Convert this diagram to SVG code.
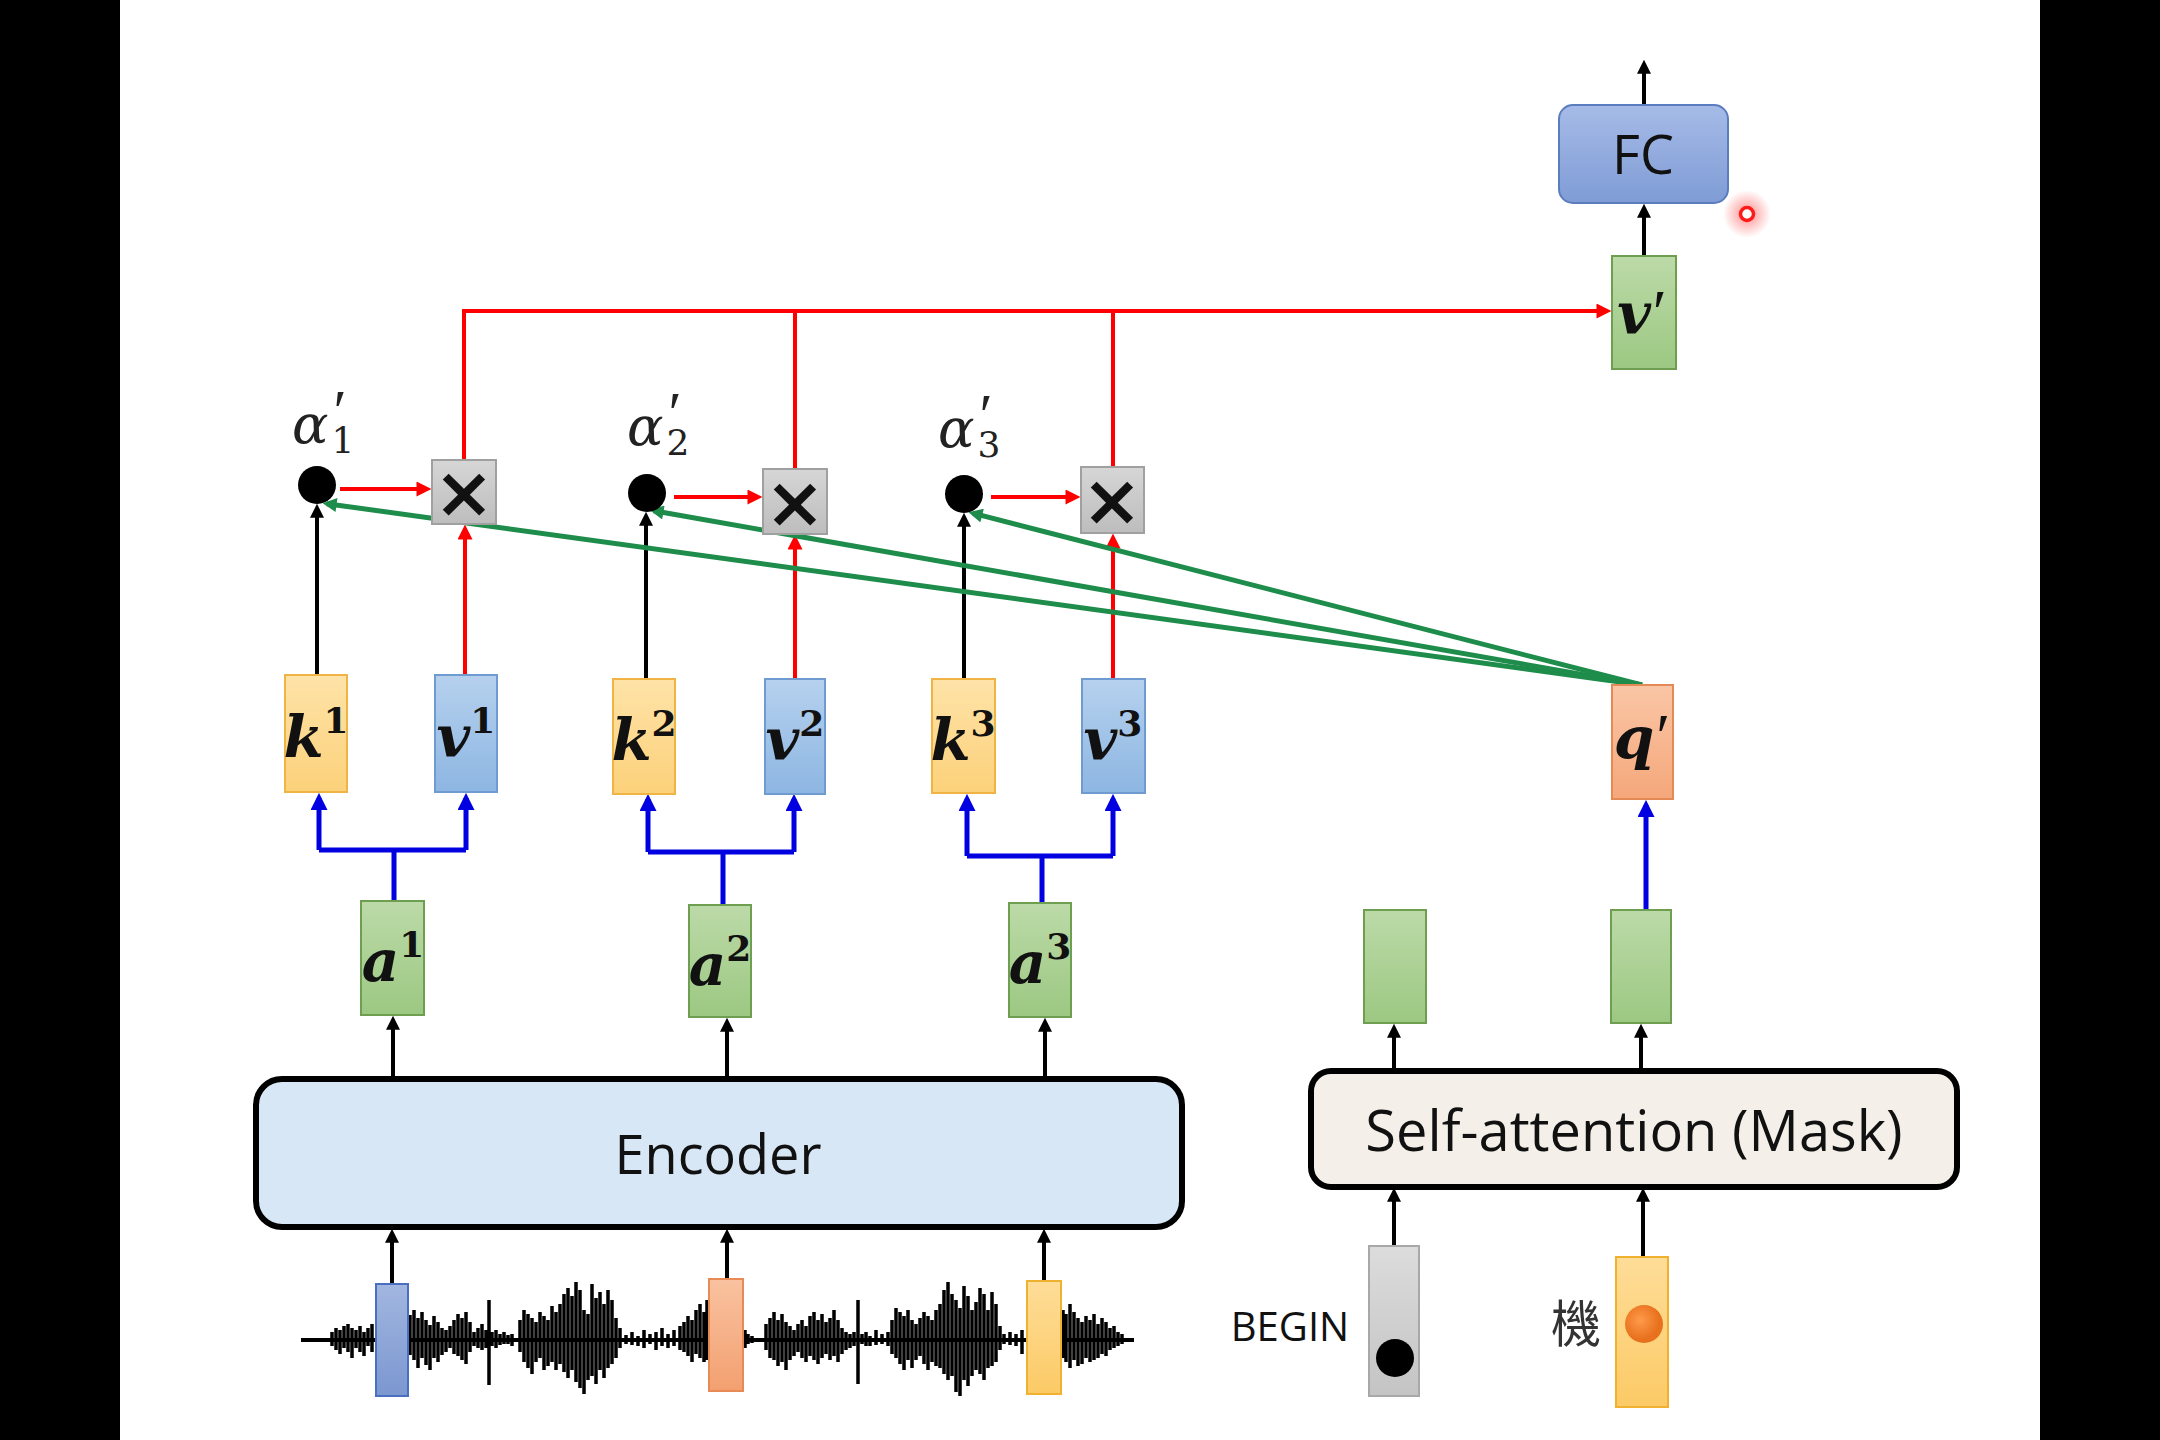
<svg xmlns="http://www.w3.org/2000/svg" width="2160" height="1440" viewBox="0 0 2160 1440">
<style>
.sans{font-family:"Open Sans","Liberation Sans",sans-serif;fill:#111}
.math{font-family:"DejaVu Serif","Liberation Serif",serif;font-weight:bold;font-style:italic;fill:#111}
.sup{font-style:normal;font-size:36px}
.pr{font-family:"Liberation Serif","DejaVu Serif",serif;font-style:normal;font-weight:normal}
.greek{font-family:"DejaVu Serif","Liberation Serif",serif;font-style:italic;font-size:54px;fill:#222}
.sub{font-style:normal;font-size:36px}
.prime{font-family:"Liberation Serif","DejaVu Serif",serif;font-style:normal;font-size:60px}
.blk{stroke:#000;stroke-width:4;fill:none}
.red{stroke:#f00;stroke-width:4;fill:none}
.blue{stroke:#0000e0;stroke-width:5;fill:none}
.grn{stroke:#1e8c4a;stroke-width:5;fill:none}
.k{fill:url(#gK);stroke:#f0b445;stroke-width:2}
.v{fill:url(#gV);stroke:#6f9bd1;stroke-width:2}
.a{fill:url(#gA);stroke:#6e9e50;stroke-width:2}
.x{fill:url(#gX);stroke:#a0a0a0;stroke-width:2}
.times{font-family:"DejaVu Sans",sans-serif;font-weight:bold;font-size:72px;fill:#111}
</style>
<defs>
<linearGradient id="gK" x1="0" y1="0" x2="0" y2="1"><stop offset="0" stop-color="#fee3a8"/><stop offset="1" stop-color="#fcd17a"/></linearGradient>
<linearGradient id="gV" x1="0" y1="0" x2="0" y2="1"><stop offset="0" stop-color="#b6d1ee"/><stop offset="1" stop-color="#8db6e2"/></linearGradient>
<linearGradient id="gA" x1="0" y1="0" x2="0" y2="1"><stop offset="0" stop-color="#bcdaa8"/><stop offset="1" stop-color="#9cc882"/></linearGradient>
<linearGradient id="gQ" x1="0" y1="0" x2="0" y2="1"><stop offset="0" stop-color="#fac6a6"/><stop offset="1" stop-color="#f5a77a"/></linearGradient>
<linearGradient id="gX" x1="0" y1="0" x2="0" y2="1"><stop offset="0" stop-color="#d6d6d6"/><stop offset="1" stop-color="#bdbdbd"/></linearGradient>
<linearGradient id="gFC" x1="0" y1="0" x2="0" y2="1"><stop offset="0" stop-color="#a6bbe7"/><stop offset="1" stop-color="#7f9cd6"/></linearGradient>
<linearGradient id="gAB" x1="0" y1="0" x2="0" y2="1"><stop offset="0" stop-color="#a2b7e0"/><stop offset="1" stop-color="#7b97d0"/></linearGradient>
<linearGradient id="gAO" x1="0" y1="0" x2="0" y2="1"><stop offset="0" stop-color="#f9c2a0"/><stop offset="1" stop-color="#f3a070"/></linearGradient>
<linearGradient id="gAY" x1="0" y1="0" x2="0" y2="1"><stop offset="0" stop-color="#fedd98"/><stop offset="1" stop-color="#fcca66"/></linearGradient>
<linearGradient id="gG" x1="0" y1="0" x2="0" y2="1"><stop offset="0" stop-color="#dcdcdc"/><stop offset="1" stop-color="#c4c4c4"/></linearGradient>
<radialGradient id="gGlow"><stop offset="0" stop-color="#ff3030" stop-opacity="0.55"/><stop offset="1" stop-color="#ff3030" stop-opacity="0"/></radialGradient>
<radialGradient id="gOr" cx="0.4" cy="0.4"><stop offset="0" stop-color="#ff9a4a"/><stop offset="1" stop-color="#e8711e"/></radialGradient>
<marker id="mK" viewBox="0 0 10 10" refX="7" refY="5" markerWidth="15" markerHeight="14" markerUnits="userSpaceOnUse" orient="auto"><path d="M0,0 L10,5 L0,10 z" fill="#000"/></marker>
<marker id="mR" viewBox="0 0 10 10" refX="7" refY="5" markerWidth="16" markerHeight="15" markerUnits="userSpaceOnUse" orient="auto"><path d="M0,0 L10,5 L0,10 z" fill="#f00"/></marker>
<marker id="mB" viewBox="0 0 10 10" refX="7" refY="5" markerWidth="17" markerHeight="17" markerUnits="userSpaceOnUse" orient="auto"><path d="M0,0 L10,5 L0,10 z" fill="#0000e0"/></marker>
<marker id="mG" viewBox="0 0 10 10" refX="7" refY="5" markerWidth="16" markerHeight="14" markerUnits="userSpaceOnUse" orient="auto"><path d="M0,0 L10,5 L0,10 z" fill="#1e8c4a"/></marker>
</defs>

<rect x="0" y="0" width="2160" height="1440" fill="#fff"/>
<rect x="0" y="0" width="120" height="1440" fill="#000"/>
<rect x="2040" y="0" width="120" height="1440" fill="#000"/>

<!-- waveform -->
<g id="waveform">
<path d="M301 1340 H1134" stroke="#000" stroke-width="4" fill="none"/>
<path stroke="#000" stroke-width="3.5" fill="none" d="M332 1332V1346M336 1328V1350M340 1330V1354M344 1326V1348M348 1324V1352M352 1328V1358M356 1330V1348M360 1326V1352M364 1332V1356M368 1328V1346M372 1324V1352M410 1315V1355M414 1310V1360M418 1318V1368M422 1312V1358M426 1320V1365M430 1325V1370M434 1316V1358M438 1322V1362M442 1328V1355M446 1330V1352M450 1326V1348M454 1320V1354M458 1314V1356M462 1318V1360M466 1312V1364M470 1322V1352M474 1332V1346M478 1328V1348M482 1324V1350M486 1330V1348M489 1300V1385M492 1332V1346M496 1330V1348M500 1334V1345M504 1332V1344M508 1335V1344M512 1334V1346M520 1320V1352M524 1310V1362M528 1314V1368M532 1318V1374M536 1322V1362M540 1312V1358M544 1316V1370M548 1320V1366M552 1306V1362M556 1312V1370M560 1304V1364M564 1294V1372M568 1288V1378M572 1296V1370M576 1282V1382M580 1290V1388M584 1310V1394M588 1314V1380M592 1284V1376M596 1298V1384M600 1292V1370M604 1304V1378M608 1290V1368M612 1300V1364M616 1318V1358M620 1328V1348M626 1335V1344M632 1332V1345M638 1336V1346M644 1330V1348M650 1334V1344M656 1332V1350M662 1328V1346M668 1334V1348M674 1330V1346M680 1326V1350M684 1322V1352M688 1316V1356M692 1320V1362M696 1310V1354M700 1304V1358M704 1312V1362M707 1300V1360M745 1330V1348M748 1334V1344M752 1336V1343M766 1324V1350M770 1318V1358M774 1312V1360M778 1320V1366M782 1314V1362M786 1322V1370M790 1326V1360M794 1330V1356M798 1324V1352M802 1320V1358M806 1326V1362M810 1316V1356M814 1312V1360M818 1320V1364M822 1314V1358M826 1322V1354M830 1318V1360M834 1310V1356M838 1320V1362M842 1328V1354M846 1332V1350M850 1334V1348M854 1332V1346M858 1300V1384M862 1334V1344M866 1332V1346M870 1336V1346M876 1330V1345M882 1334V1344M888 1332V1346M892 1320V1354M896 1308V1358M900 1312V1364M904 1316V1370M908 1310V1360M912 1320V1368M916 1324V1360M920 1318V1356M924 1312V1364M928 1316V1370M932 1320V1362M936 1310V1366M940 1304V1368M944 1290V1374M948 1282V1380M952 1294V1376M956 1300V1392M960 1308V1396M964 1286V1380M968 1296V1386M972 1310V1376M976 1302V1370M980 1288V1374M984 1294V1380M988 1310V1368M992 1292V1366M996 1304V1362M1000 1326V1350M1004 1334V1344M1010 1332V1345M1016 1334V1346M1022 1330V1354M1063 1310V1358M1066 1314V1362M1070 1304V1368M1074 1312V1360M1078 1318V1366M1082 1322V1364M1086 1316V1358M1090 1320V1362M1094 1314V1360M1098 1324V1358M1102 1318V1354M1106 1322V1356M1110 1328V1350M1114 1326V1348M1118 1332V1346M1122 1334V1344"/>
</g>

<g id="connectors">
<!-- black -->
<path class="blk" marker-end="url(#mK)" d="M317 675 V508"/>
<path class="blk" marker-end="url(#mK)" d="M646 679 V516"/>
<path class="blk" marker-end="url(#mK)" d="M964 679 V517"/>
<path class="blk" marker-end="url(#mK)" d="M1644 256 V208"/>
<path class="blk" marker-end="url(#mK)" d="M1644 105 V64"/>
<path class="blk" marker-end="url(#mK)" d="M393 1078 V1020"/>
<path class="blk" marker-end="url(#mK)" d="M727 1078 V1022"/>
<path class="blk" marker-end="url(#mK)" d="M1045 1078 V1022"/>
<path class="blk" marker-end="url(#mK)" d="M392 1284 V1233"/>
<path class="blk" marker-end="url(#mK)" d="M727 1279 V1233"/>
<path class="blk" marker-end="url(#mK)" d="M1044 1281 V1233"/>
<path class="blk" marker-end="url(#mK)" d="M1394 1071 V1028"/>
<path class="blk" marker-end="url(#mK)" d="M1641 1071 V1028"/>
<path class="blk" marker-end="url(#mK)" d="M1394 1246 V1192"/>
<path class="blk" marker-end="url(#mK)" d="M1643 1257 V1192"/>
<!-- red -->
<path class="red" marker-end="url(#mR)" d="M340 489 H427"/>
<path class="red" marker-end="url(#mR)" d="M674 497 H758"/>
<path class="red" marker-end="url(#mR)" d="M991 497 H1076"/>
<path class="red" marker-end="url(#mR)" d="M465 675 V529"/>
<path class="red" marker-end="url(#mR)" d="M795 679 V539"/>
<path class="red" marker-end="url(#mR)" d="M1113 679 V538"/>
<path class="red" marker-end="url(#mR)" d="M464 460 V311 H1607"/>
<path class="red" d="M795 469 V311"/>
<path class="red" d="M1113 467 V311"/>
<!-- blue -->
<path class="blue" d="M394 901 V850 M319 850 H466 M723 905 V852 M648 852 H794 M1042 903 V856 M967 856 H1113"/>
<path class="blue" marker-end="url(#mB)" d="M319 850 V798"/>
<path class="blue" marker-end="url(#mB)" d="M466 850 V798"/>
<path class="blue" marker-end="url(#mB)" d="M648 852 V799"/>
<path class="blue" marker-end="url(#mB)" d="M794 852 V799"/>
<path class="blue" marker-end="url(#mB)" d="M967 856 V799"/>
<path class="blue" marker-end="url(#mB)" d="M1113 856 V799"/>
<path class="blue" marker-end="url(#mB)" d="M1646 910 V805"/>
<!-- green -->
<path class="grn" marker-end="url(#mG)" d="M1642 685 L326.8 503.7"/>
<path class="grn" marker-end="url(#mG)" d="M1642 685 L653.7 510.8"/>
<path class="grn" marker-end="url(#mG)" d="M1642 685 L972.6 513.2"/>
</g>

<!-- dots and labels -->
<g id="alpha1"><circle cx="317" cy="485" r="19" fill="#000"/>
<text class="greek" x="292" y="443">α<tspan class="prime" dx="5" dy="-12">′</tspan><tspan class="sub" dx="-15" dy="22">1</tspan></text></g>
<g id="alpha2"><circle cx="647" cy="493" r="19" fill="#000"/>
<text class="greek" x="627" y="445">α<tspan class="prime" dx="5" dy="-12">′</tspan><tspan class="sub" dx="-15" dy="22">2</tspan></text></g>
<g id="alpha3"><circle cx="964" cy="494" r="19" fill="#000"/>
<text class="greek" x="938" y="447">α<tspan class="prime" dx="5" dy="-12">′</tspan><tspan class="sub" dx="-15" dy="22">3</tspan></text></g>

<g id="mul1"><rect class="x" x="432" y="460" width="64" height="64"/><text class="times" x="464" y="517" text-anchor="middle">×</text></g>
<g id="mul2"><rect class="x" x="763" y="469" width="64" height="65"/><text class="times" x="795" y="527" text-anchor="middle">×</text></g>
<g id="mul3"><rect class="x" x="1081" y="467" width="63" height="66"/><text class="times" x="1112" y="525" text-anchor="middle">×</text></g>

<g id="k1"><rect class="k" x="285" y="675" width="62" height="117"/><text class="math" x="316" y="757" font-size="58" text-anchor="middle">k<tspan class="sup" dy="-24">1</tspan></text></g>
<g id="v1"><rect class="v" x="435" y="675" width="62" height="117"/><text class="math" x="466" y="757" font-size="58" text-anchor="middle">v<tspan class="sup" dy="-24">1</tspan></text></g>
<g id="k2"><rect class="k" x="613" y="679" width="62" height="115"/><text class="math" x="644" y="760" font-size="58" text-anchor="middle">k<tspan class="sup" dy="-24">2</tspan></text></g>
<g id="v2"><rect class="v" x="765" y="679" width="60" height="115"/><text class="math" x="795" y="760" font-size="58" text-anchor="middle">v<tspan class="sup" dy="-24">2</tspan></text></g>
<g id="k3"><rect class="k" x="932" y="679" width="63" height="114"/><text class="math" x="963" y="760" font-size="58" text-anchor="middle">k<tspan class="sup" dy="-24">3</tspan></text></g>
<g id="v3"><rect class="v" x="1082" y="679" width="63" height="114"/><text class="math" x="1113" y="760" font-size="58" text-anchor="middle">v<tspan class="sup" dy="-24">3</tspan></text></g>

<g id="qprime"><rect x="1612" y="685" width="61" height="114" fill="url(#gQ)" stroke="#e38a57" stroke-width="2"/><text class="math" x="1642" y="758" font-size="58" text-anchor="middle">q<tspan class="pr" font-size="64" dx="2">′</tspan></text></g>

<g id="vprime"><rect x="1612" y="256" width="64" height="113" fill="url(#gA)" stroke="#6e9e50" stroke-width="2"/><text class="math" x="1642" y="334" font-size="58" text-anchor="middle">v<tspan class="pr" font-size="64" dx="2">′</tspan></text></g>

<g id="fc"><rect x="1559" y="105" width="169" height="98" rx="14" fill="url(#gFC)" stroke="#5b7dbf" stroke-width="2"/><text class="sans" x="1643" y="174" font-size="54" text-anchor="middle">FC</text></g>

<g id="a1"><rect class="a" x="361" y="901" width="63" height="114"/><text class="math" x="393" y="981" font-size="58" text-anchor="middle">a<tspan class="sup" dy="-24">1</tspan></text></g>
<g id="a2"><rect class="a" x="689" y="905" width="62" height="112"/><text class="math" x="720" y="985" font-size="58" text-anchor="middle">a<tspan class="sup" dy="-24">2</tspan></text></g>
<g id="a3"><rect class="a" x="1009" y="903" width="62" height="114"/><text class="math" x="1040" y="983" font-size="58" text-anchor="middle">a<tspan class="sup" dy="-24">3</tspan></text></g>

<g id="encoder"><rect x="256" y="1079" width="926" height="148" rx="26" fill="#d8e7f6" stroke="#000" stroke-width="6"/><text class="sans" x="718" y="1174" font-size="54" text-anchor="middle">Encoder</text></g>

<g id="audio-frames">
<rect x="376" y="1284" width="32" height="112" fill="url(#gAB)" stroke="#4a6fc0" stroke-width="2"/>
<rect x="709" y="1279" width="34" height="112" fill="url(#gAO)" stroke="#e88a55" stroke-width="2"/>
<rect x="1027" y="1281" width="34" height="113" fill="url(#gAY)" stroke="#f0b030" stroke-width="2"/>
</g>

<g id="selfattn"><rect x="1311" y="1071" width="646" height="116" rx="20" fill="#f4efe8" stroke="#000" stroke-width="6"/><text class="sans" x="1634" y="1151" font-size="56" text-anchor="middle">Self-attention (Mask)</text></g>

<g id="out1"><rect class="a" x="1364" y="910" width="62" height="113"/></g>
<g id="out2"><rect class="a" x="1611" y="910" width="60" height="113"/></g>

<g id="begin"><rect x="1369" y="1246" width="50" height="150" fill="url(#gG)" stroke="#a8a8a8" stroke-width="2"/><circle cx="1395" cy="1358" r="19" fill="#000"/><text class="sans" x="1290" y="1341" font-size="40" text-anchor="middle">BEGIN</text></g>

<g id="ji"><rect x="1616" y="1257" width="52" height="150" fill="url(#gAY)" stroke="#f0b030" stroke-width="2"/><circle cx="1644" cy="1324" r="19" fill="url(#gOr)"/><text x="1576" y="1342" font-size="50" text-anchor="middle" font-family="'Noto Sans CJK TC','Noto Sans CJK SC',sans-serif" fill="#333">機</text></g>

<g id="pointer"><circle cx="1747" cy="214" r="24" fill="url(#gGlow)"/><circle cx="1747" cy="214" r="6.5" fill="#fff" stroke="#ff1a1a" stroke-width="3.5"/></g>
</svg>
